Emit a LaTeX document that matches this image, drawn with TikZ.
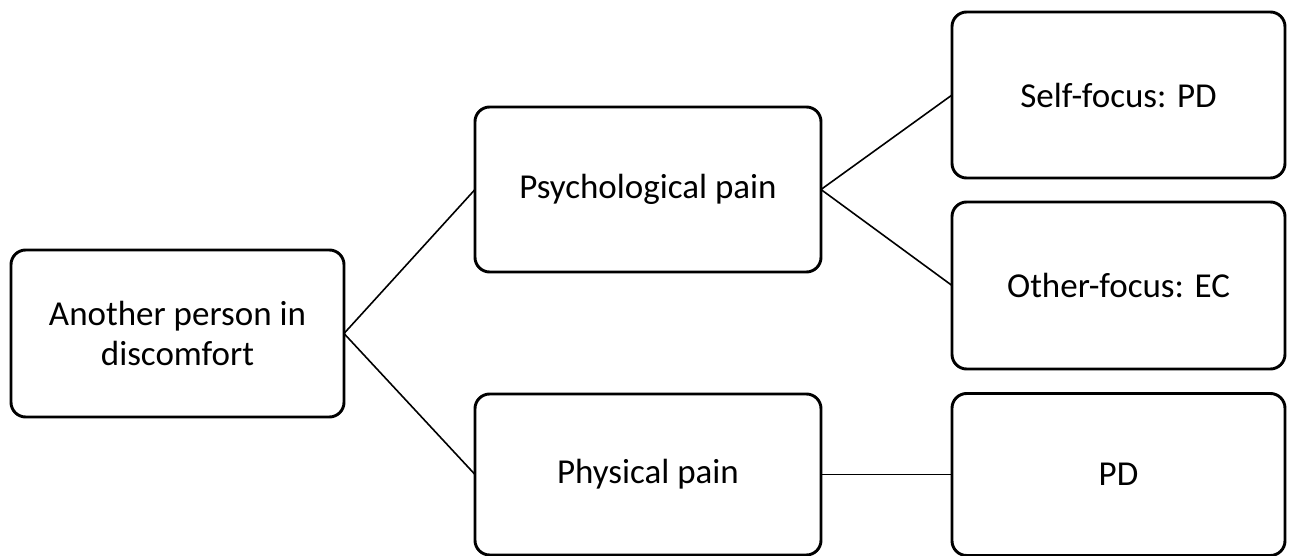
\documentclass[tikz,border=0pt]{standalone}
\usepackage{fontspec}
\setmainfont{Carlito}
\begin{document}
\begin{tikzpicture}[x=0.75pt,y=-0.75pt,
  box/.style={draw=black, line width=2.2pt, rounded corners=11pt, fill=white,
    inner sep=0pt, outer sep=0pt, align=center,
    font=\fontsize{26.25pt}{29.5pt}\selectfont},
  link/.style={draw=black, line width=1.2pt}]
\useasboundingbox (0,0) rectangle (1290,556);
\node[box, minimum width=249.75pt, minimum height=125.25pt] (A) at (177.5,333.5) {Another person in\\discomfort};
\node[box, minimum width=259.5pt, minimum height=123.75pt] (B) at (648,189.5) {Psychological pain};
\node[box, minimum width=259.5pt, minimum height=120.75pt] (C) at (648,474.5) {Physical pain};
\node[box, minimum width=249.75pt, minimum height=124.5pt] (D) at (1118.5,95) {Self-focus: PD};
\node[box, minimum width=249.75pt, minimum height=125.25pt] (E) at (1118.5,285.5) {Other-focus: EC};
\node[box, minimum width=249.75pt, minimum height=121.5pt] (F) at (1118.5,474.5) {PD};
\draw[link] (A.east) -- (B.west);
\draw[link] (A.east) -- (C.west);
\draw[link] (B.east) -- (D.west);
\draw[link] (B.east) -- (E.west);
\draw[link] (C.east) -- (F.west);
\end{tikzpicture}
\end{document}
